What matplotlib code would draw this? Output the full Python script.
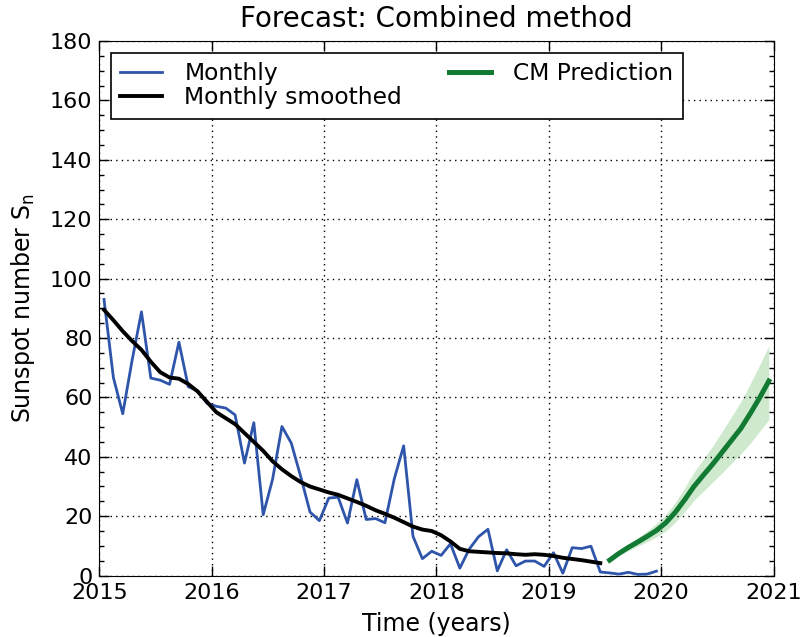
import numpy as np
import matplotlib
matplotlib.use("Agg")
import matplotlib.pyplot as plt
from matplotlib.ticker import MultipleLocator

# monthly sunspot number, Jan 2015 .. Dec 2019
monthly = [93.0, 66.7, 54.5, 72.5, 88.8, 66.5, 65.8, 64.4, 78.6, 63.6, 62.2, 58.0,
           57.0, 56.4, 54.1, 37.9, 51.5, 20.5, 32.4, 50.2, 44.6, 33.4, 21.4, 18.5,
           26.1, 26.4, 17.7, 32.3, 18.9, 19.2, 17.8, 32.6, 43.7, 13.2, 5.7, 8.2,
           6.8, 10.7, 2.5, 8.9, 13.1, 15.6, 1.6, 8.7, 3.3, 4.9, 4.9, 3.1,
           7.7, 0.8, 9.4, 9.1, 9.9, 1.2, 0.9, 0.5, 1.1, 0.4, 0.5, 1.5]

# 13-month smoothed, Jan 2015 .. Jun 2019
smoothed = [89.5, 86.0, 82.3, 79.0, 76.0, 72.0, 68.5, 66.7, 66.3, 64.5, 62.0, 58.5,
            55.0, 53.0, 51.0, 48.0, 45.0, 42.0, 38.5, 35.8, 33.5, 31.5, 30.0, 29.0,
            28.0, 27.2, 26.0, 24.8, 23.5, 22.0, 20.8, 19.5, 18.0, 16.5, 15.5, 15.0,
            13.6, 11.5, 9.0, 8.2, 8.0, 7.8, 7.6, 7.5, 7.2, 7.0, 7.2, 7.0,
            6.6, 6.0, 5.6, 5.2, 4.7, 4.2]

# CM prediction, Jul 2019 .. Dec 2020
pred = [5.2, 7.5, 9.5, 11.3, 13.2, 15.2, 17.8, 21.3, 25.5, 30.0, 33.8, 37.5,
        41.5, 45.5, 49.5, 54.5, 59.8, 65.5]
pred_hi = [5.8, 8.3, 10.6, 12.8, 15.0, 17.5, 20.6, 24.6, 29.5, 34.8, 39.2, 43.6,
           48.5, 53.5, 58.5, 64.5, 70.8, 77.4]
pred_lo = [4.6, 6.7, 8.4, 9.9, 11.4, 13.0, 15.0, 18.0, 21.5, 25.3, 28.4, 31.5,
           34.6, 37.8, 41.0, 44.5, 48.5, 52.5]

t_monthly = 2015 + (np.arange(len(monthly)) + 0.5) / 12
t_smooth = 2015 + (np.arange(len(smoothed)) + 0.5) / 12
t_pred = 2015 + (np.arange(54, 54 + len(pred)) + 0.5) / 12

fig = plt.figure(figsize=(8.03, 6.37), dpi=100)
ax = fig.add_axes([0.1237, 0.0964, 0.8396, 0.8392])

ax.plot(t_monthly, monthly, color='#2f55ab', lw=2.0, label='Monthly')
ax.plot(t_smooth, smoothed, color='black', lw=2.8, label='Monthly smoothed')
ax.fill_between(t_pred, pred_lo, pred_hi, color='#9fd49f', alpha=0.5, lw=0)
ax.plot(t_pred, pred, color='#137a33', lw=3.6, label='CM Prediction')

ax.set_xlim(2015, 2021)
ax.set_ylim(0, 180)
ax.yaxis.set_major_locator(MultipleLocator(20))
ax.yaxis.set_minor_locator(MultipleLocator(5))
ax.xaxis.set_major_locator(MultipleLocator(1))
ax.tick_params(which='both', direction='in', top=True, right=True, labelsize=16)
ax.tick_params(which='major', length=7, width=1, pad=5)
ax.tick_params(which='minor', length=3.5, width=1)
ax.grid(True, linestyle=(0, (1, 3)), color='black', lw=1)

ax.set_title('Forecast: Combined method', fontsize=20, pad=10)
ax.set_xlabel('Time (years)', fontsize=17, labelpad=7)
ax.set_ylabel(r'Sunspot number $\mathrm{S_n}$', fontsize=17, labelpad=9)

leg = ax.legend(loc='upper left', ncol=2, fontsize=16.8, fancybox=False,
                edgecolor='black', framealpha=1, handlelength=1.8,
                handletextpad=0.95, borderaxespad=0.5, columnspacing=2.0,
                labelspacing=0.05, borderpad=0.4)
leg.get_frame().set_linewidth(1.2)

plt.savefig('out.png', dpi=100)
